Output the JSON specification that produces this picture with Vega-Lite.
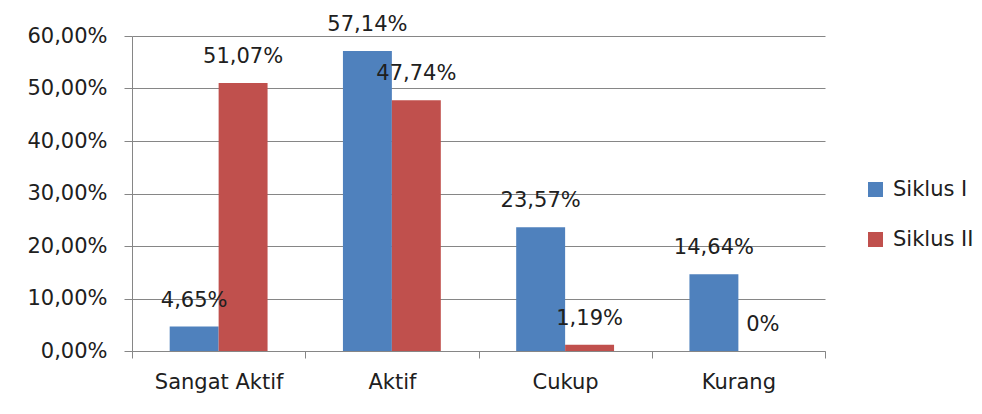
{
  "$schema": "https://vega.github.io/schema/vega-lite/v6.json",
  "autosize": "none",
  "width": 693,
  "height": 315,
  "padding": {"left": 132, "top": 36, "right": 157, "bottom": 63},
  "background": "white",
  "data": {
    "values": [
      {"kategori": "Sangat Aktif", "siklus": "Siklus I", "nilai": 4.65, "label": "4,65%"},
      {"kategori": "Sangat Aktif", "siklus": "Siklus II", "nilai": 51.07, "label": "51,07%"},
      {"kategori": "Aktif", "siklus": "Siklus I", "nilai": 57.14, "label": "57,14%"},
      {"kategori": "Aktif", "siklus": "Siklus II", "nilai": 47.74, "label": "47,74%"},
      {"kategori": "Cukup", "siklus": "Siklus I", "nilai": 23.57, "label": "23,57%"},
      {"kategori": "Cukup", "siklus": "Siklus II", "nilai": 1.19, "label": "1,19%"},
      {"kategori": "Kurang", "siklus": "Siklus I", "nilai": 14.64, "label": "14,64%"},
      {"kategori": "Kurang", "siklus": "Siklus II", "nilai": 0, "label": "0%"}
    ]
  },
  "encoding": {
    "x": {
      "field": "kategori",
      "type": "nominal",
      "sort": ["Sangat Aktif", "Aktif", "Cukup", "Kurang"],
      "scale": {"paddingInner": 0, "paddingOuter": 0},
      "axis": {
        "title": null,
        "labelAngle": 0,
        "tickBand": "extent",
        "labelFont": "DejaVu Sans",
        "labelFontSize": 21,
        "labelColor": "#202020",
        "labelPadding": 13,
        "tickSize": 7,
        "tickColor": "#868686",
        "domainColor": "#868686",
        "grid": false
      }
    },
    "xOffset": {
      "field": "siklus",
      "type": "nominal",
      "scale": {"paddingInner": 0, "paddingOuter": 0.77}
    },
    "y": {
      "field": "nilai",
      "type": "quantitative",
      "scale": {"domain": [0, 60], "nice": false},
      "axis": {
        "title": null,
        "values": [0, 10, 20, 30, 40, 50, 60],
        "labelExpr": "replace(format(datum.value, '.2f'), '.', ',') + '%'",
        "labelFont": "DejaVu Sans",
        "labelFontSize": 21,
        "labelColor": "#202020",
        "labelPadding": 17,
        "tickSize": 8,
        "tickColor": "#868686",
        "domainColor": "#868686",
        "grid": true,
        "gridColor": "#868686",
        "gridOpacity": 1
      }
    }
  },
  "layer": [
    {
      "mark": {"type": "bar"},
      "encoding": {
        "color": {
          "field": "siklus",
          "type": "nominal",
          "scale": {"domain": ["Siklus I", "Siklus II"], "range": ["#4F81BD", "#C0504D"]},
          "legend": {
            "title": null,
            "orient": "none",
            "legendX": 733,
            "legendY": 143,
            "symbolType": "square",
            "symbolSize": 225,
            "symbolStrokeWidth": 0,
            "labelFont": "DejaVu Sans",
            "labelFontSize": 21,
            "labelColor": "#202020",
            "labelOffset": 7,
            "rowPadding": 28,
            "padding": 0
          }
        }
      }
    },
    {
      "mark": {
        "type": "text",
        "baseline": "alphabetic",
        "dy": -20,
        "font": "DejaVu Sans",
        "fontSize": 21,
        "color": "#202020"
      },
      "encoding": {
        "text": {"field": "label"}
      }
    }
  ],
  "config": {
    "view": {"stroke": null}
  }
}
